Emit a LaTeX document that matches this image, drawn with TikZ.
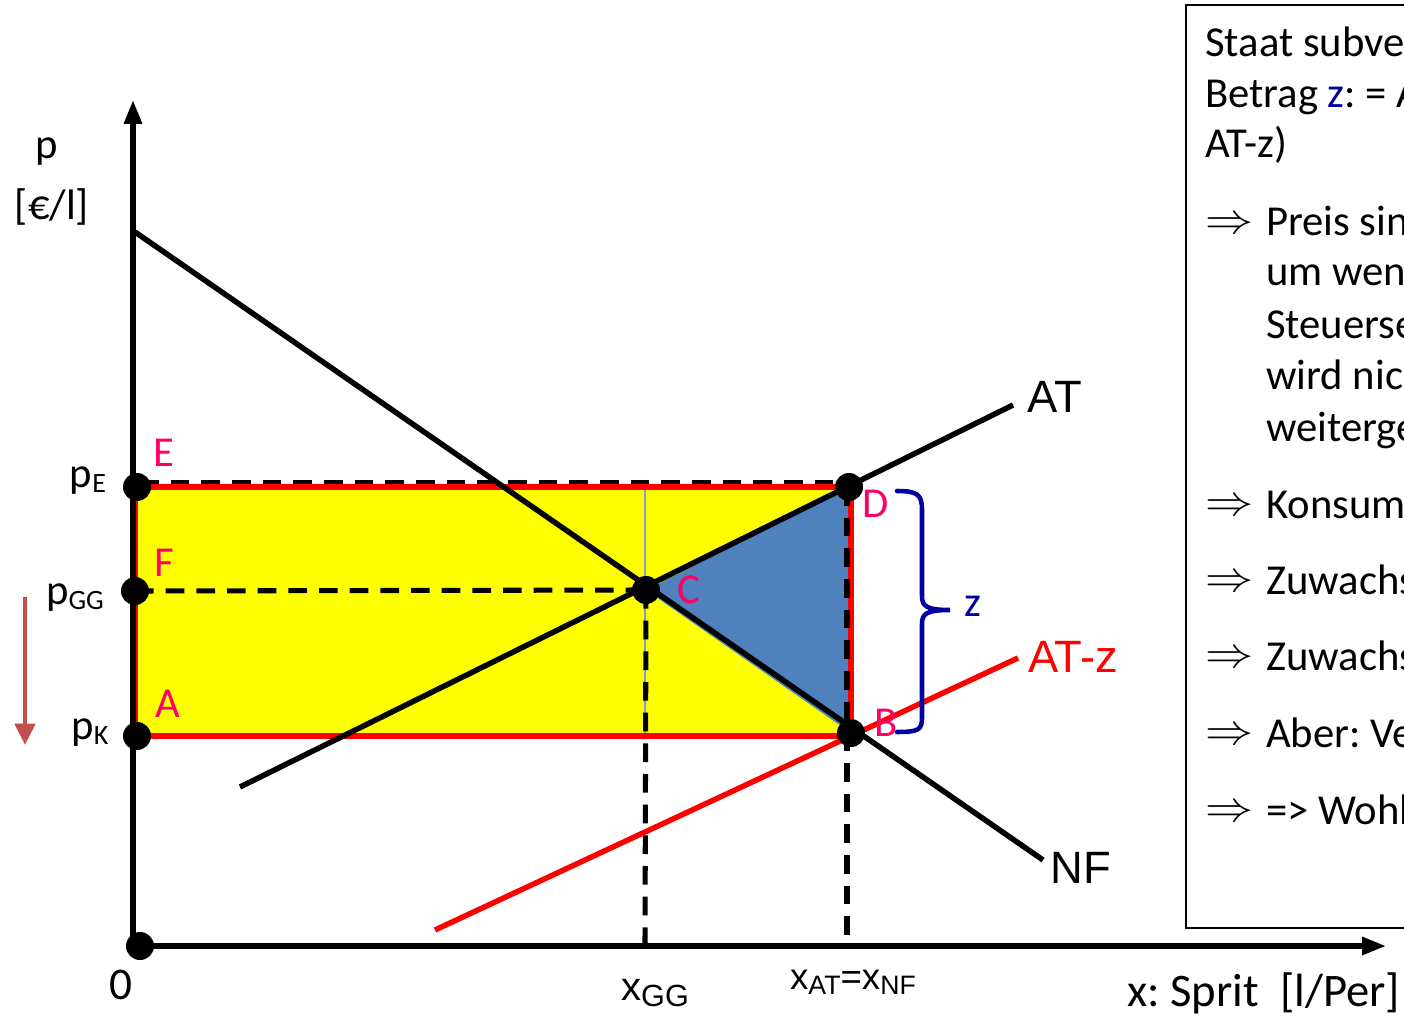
\documentclass[tikz,border=0pt]{standalone}
\usepackage{fontspec}
\usepackage{graphicx}
\setmainfont{Carlito}
\newfontfamily\arialf{Liberation Sans}
\usetikzlibrary{arrows.meta}
\definecolor{pinkl}{RGB}{255,0,102}
\definecolor{navyz}{RGB}{0,0,160}
\definecolor{triblue}{RGB}{79,129,189}
\definecolor{arrred}{RGB}{192,80,77}
\definecolor{thinblue}{RGB}{120,160,215}
\definecolor{yel}{RGB}{255,255,0}
\definecolor{redl}{RGB}{255,0,0}
\tikzset{
  dot/.style={circle, fill=black, inner sep=0pt, minimum size=21pt},
  curve/.style={line width=4.1pt},
  dashline/.style={line width=3.8pt, dash pattern=on 14pt off 9pt},
  lbl/.style={text=pinkl, font=\fontsize{32}{32}\selectfont, inner sep=0pt},
  axlbl/.style={inner sep=0pt, font=\fontsize{32}{36}\selectfont},
  curvelbl/.style={inner sep=0pt, font=\arialf\fontsize{34}{36}\selectfont},
  boxtxt/.style={anchor=base west, inner sep=0pt, font=\fontsize{32}{38}\selectfont},
  boxarr/.style={anchor=base west, inner sep=0pt, font=\fontsize{32}{38}\selectfont},
}
\newcommand{\subsc}[1]{\raisebox{-3.5pt}{\fontsize{21}{21}\selectfont #1}}
\newcommand{\bigimp}{\raisebox{2pt}{\scalebox{1.45}[1.3]{$\Rightarrow$}}}
\frenchspacing
\begin{document}
\begin{tikzpicture}[x=0.75pt,y=-0.75pt]
\clip (0,0) rectangle (1404,1016);
\fill[white] (0,0) rectangle (1404,1016);

% key coordinates
\coordinate (O) at (133,946);
\coordinate (Ytop) at (133,100);
\coordinate (Xend) at (1386,946);
\coordinate (NF1) at (135,232);
\coordinate (NF2) at (1043,860);
\coordinate (AT1) at (240,787);
\coordinate (AT2) at (1013,405);
\coordinate (ATz1) at (435,930);
\coordinate (ATz2) at (1018,658);
\coordinate (Cc) at (646,590);
\coordinate (Dc) at (849,487);
\coordinate (Bc) at (851,733);
\coordinate (PE) at (137,487);
\coordinate (PGG) at (135,591);
\coordinate (PK) at (137,736);
\coordinate (XGG) at (645,946);
\coordinate (XAT) at (847,946);
\coordinate (DV) at (847,487);
\coordinate (RTL) at (135,487);
\coordinate (RBR) at (851,736);

% yellow rectangle
\fill[yel] (RTL) rectangle (RBR);
% blue triangle
\fill[triblue] (Cc) -- (Dc) -- (Bc) -- cycle;
% thin blue line
\draw[thinblue, line width=0.9pt] (645,487) -- (645,736);
% dashed top line
\draw[dashline] (140,483) -- (849,483);
% red border
\draw[redl, line width=4.5pt] (RTL) rectangle (RBR);

% dashed guide lines
\draw[dashline] (PGG) -- (Cc);
\draw[dashline] (Cc) -- (XGG);
\draw[dashline] (DV) -- (XAT);

% curves
\draw[curve] (NF1) -- (NF2);
\draw[curve] (AT1) -- (AT2);
\draw[redl, curve] (ATz1) -- (ATz2);

% axes
\draw[line width=4pt, -{Triangle[length=18pt,width=13pt]}] (O) -- (Ytop);
\draw[line width=4pt, -{Triangle[length=18pt,width=13pt]}] (O) -- (Xend);

% red down arrow
\coordinate (RA1) at (25,597);
\coordinate (RA2) at (25,745);
\draw[arrred, line width=3.6pt, -{Triangle[length=16pt,width=15pt]}] (RA1) -- (RA2);

% brace
\draw[navyz, line width=3.4pt, line cap=round]
  (897,491) .. controls (918,491) and (922,495) .. (922,510) -- (922,596)
  .. controls (922,606) and (926,610) .. (950,610)
  .. controls (926,610) and (922,614) .. (922,624) -- (922,718)
  .. controls (922,730) and (918,732) .. (897,732);
\node[axlbl, text=navyz] (zl) at (973,606) {z};

% dots
\node[dot] (dE) at (PE) {};
\node[dot] (dGG) at (PGG) {};
\node[dot] (dK) at (PK) {};
\node[dot] (dC) at (Cc) {};
\node[dot] (dD) at (Dc) {};
\node[dot] (dB) at (Bc) {};
\node[dot] (dO) at (140,946) {};

% point labels
\node[lbl] (lE) at (164,453) {E};
\node[lbl] (lF) at (164,563) {F};
\node[lbl] (lA) at (168,704) {A};
\node[lbl] (lD) at (876,504) {D};
\node[lbl] (lC) at (689,590) {C};
\node[lbl] (lB) at (886,723) {B};

% axis labels
\node[axlbl] (lp) at (47,152) {p};
\node[axlbl] (lunit) at (52,207) {[€/l]};
\node[axlbl] (lpE) at (88,481) {p\subsc{E}};
\node[axlbl] (lpGG) at (75,598) {p\subsc{GG}};
\node[axlbl] (lpK) at (90,733) {p\subsc{K}};
\node[inner sep=0pt, font=\fontsize{34}{36}\selectfont] (l0) at (121,985) {0};
\node[inner sep=0pt, font=\arialf\fontsize{30}{30}\selectfont] (lxGG) at (655,993) {x\raisebox{-4pt}{\fontsize{23}{23}\selectfont GG}};
\node[inner sep=0pt, font=\arialf\fontsize{27.5}{30}\selectfont] (lxAT) at (853,982) {x\raisebox{-4pt}{\fontsize{20}{20}\selectfont AT}=x\raisebox{-4pt}{\fontsize{20}{20}\selectfont NF}};
\node[inner sep=0pt, anchor=west, font=\fontsize{35}{38}\selectfont] (lx) at (1127,993) {x: Sprit\ \ [l/Per]};

% curve labels
\node[curvelbl] (lAT) at (1055,397) {AT};
\node[curvelbl, text=redl] (lATz) at (1073,657) {AT-z};
\node[curvelbl] (lNF) at (1081,868) {NF};

% right text box
\draw[line width=1.1pt] (1186,5) rectangle (1440,928);
\node[boxtxt] (t1) at (1205,57) {Staat subve};
\node[boxtxt] (t2) at (1205,108) {Betrag \textcolor{navyz}{z}: = A};
\node[boxtxt] (t3) at (1205,158) {AT-z)};
\node[boxarr] (a1) at (1205,236) {\bigimp};
\node[boxtxt] (t4) at (1266,236) {Preis sin};
\node[boxtxt] (t5) at (1266,286) {um wen};
\node[boxtxt] (t6) at (1266,339) {Steuerse};
\node[boxtxt] (t7) at (1266,390) {wird nic};
\node[boxtxt] (t8) at (1266,441) {weiterge};
\node[boxarr] (a2) at (1205,518) {\bigimp};
\node[boxtxt] (t9) at (1266,518) {Konsum};
\node[boxarr] (a3) at (1205,594) {\bigimp};
\node[boxtxt] (t10) at (1266,594) {Zuwachs};
\node[boxarr] (a4) at (1205,670) {\bigimp};
\node[boxtxt] (t11) at (1266,670) {Zuwachs};
\node[boxarr] (a5) at (1205,747) {\bigimp};
\node[boxtxt] (t12) at (1266,747) {Aber: Ve};
\node[boxarr] (a6) at (1205,824) {\bigimp};
\node[boxtxt] (t13) at (1266,824) {=> Wohl};
\end{tikzpicture}
\end{document}
